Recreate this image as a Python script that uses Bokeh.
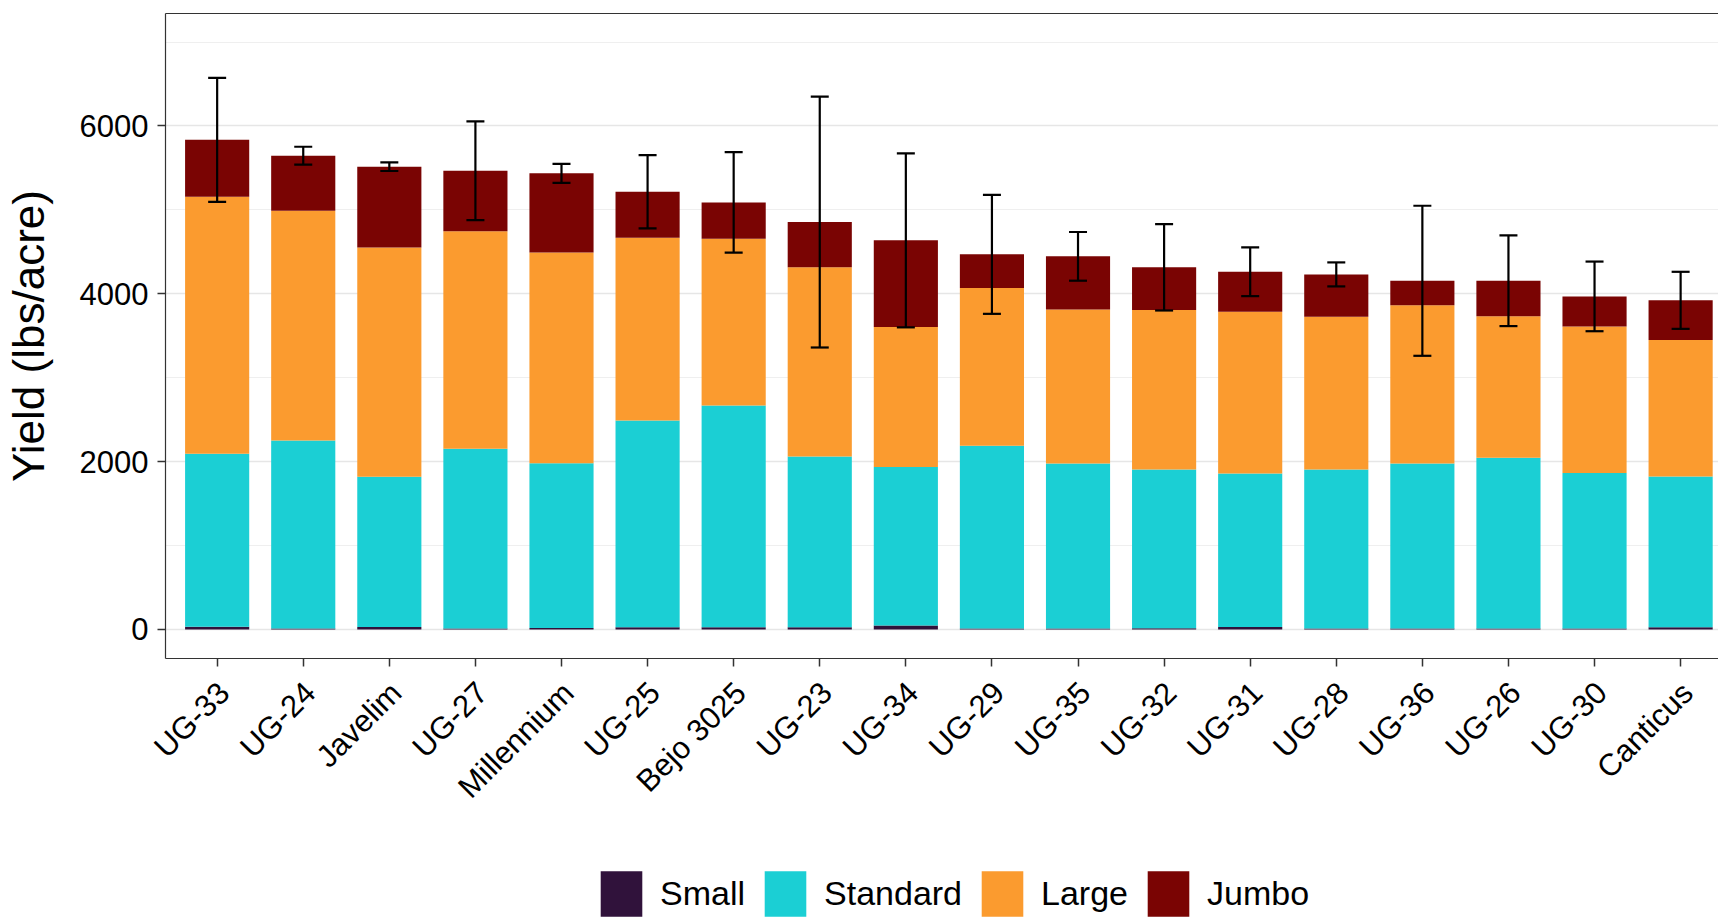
import math
from bokeh.plotting import figure
from bokeh.layouts import column
from bokeh.models import (ColumnDataSource, Range1d, FixedTicker, Legend, LegendItem,
                          Whisker, TeeHead, LinearAxis)
from bokeh.embed import file_html
from bokeh.resources import INLINE

# ---- data ----
varieties = ["UG-33", "UG-24", "Javelim", "UG-27", "Millennium", "UG-25", "Bejo 3025",
             "UG-23", "UG-34", "UG-29", "UG-35", "UG-32", "UG-31", "UG-28", "UG-36",
             "UG-26", "UG-30", "Canticus"]
small = [32, 12, 30, 12, 18, 25, 25, 25, 48, 12, 12, 14, 30, 12, 12, 12, 12, 25]
standard = [2061, 2241, 1789, 2141, 1964, 2466, 2645, 2037, 1887, 2176, 1967, 1893,
            1829, 1895, 1967, 2033, 1851, 1799]
large = [3063, 2736, 2734, 2591, 2511, 2177, 1986, 2253, 1668, 1880, 1835, 1899,
         1927, 1819, 1883, 1686, 1748, 1624]
jumbo = [679, 656, 961, 722, 942, 548, 433, 540, 1034, 402, 632, 509,
         476, 505, 293, 424, 358, 474]
error = [739, 107, 51, 588, 113, 437, 598, 1495, 1037, 709, 290, 514,
         290, 143, 894, 540, 415, 340]

classes = ["Small", "Standard", "Large", "Jumbo"]
colors = ["#30123b", "#1bcfd4", "#fb9b2f", "#7a0403"]
y_ticks = [0, 2000, 4000, 6000]
y_minor = [1000, 3000, 5000, 7000]
y_title = "Yield (lbs/acre)"

FONT = "Liberation Sans"
BORDER = "#333333"

x = list(range(len(varieties)))
total = [a + b + c + d for a, b, c, d in zip(small, standard, large, jumbo)]
src = ColumnDataSource(dict(
    x=x, Small=small, Standard=standard, Large=large, Jumbo=jumbo,
    upper=[t + e for t, e in zip(total, error)],
    lower=[t - e for t, e in zip(total, error)],
))

X0, X1 = -0.6, 17.44
p = figure(width=1718, height=860, output_backend="svg", toolbar_location=None,
           x_range=Range1d(X0, X1), y_range=Range1d(-346, 7340),
           min_border_left=165, min_border_right=0, min_border_top=13,
           min_border_bottom=202)
p.background_fill_color = "white"
p.border_fill_color = "white"
p.outline_line_color = None

bars = p.vbar_stack(classes, x="x", width=0.745, fill_color=colors,
                    line_color=None, source=src)

whisk = Whisker(base="x", upper="upper", lower="lower", source=src,
                line_color="black", line_width=2.2, level="overlay",
                upper_head=TeeHead(size=18, line_color="black", line_width=2.2),
                lower_head=TeeHead(size=18, line_color="black", line_width=2.2))
p.add_layout(whisk)

# main x axis: panel border + tick marks only
xax = p.xaxis[0]
xax.ticker = FixedTicker(ticks=x)
xax.major_label_overrides = {i: "" for i in x}
xax.major_label_text_font_size = "0px"
xax.major_label_standoff = 0
xax.axis_line_color = BORDER
xax.axis_line_width = 1.2
xax.major_tick_line_color = BORDER
xax.major_tick_line_width = 1.5
xax.major_tick_out = 8
xax.major_tick_in = 0
xax.minor_tick_line_color = None

yax = p.yaxis[0]
yax.ticker = FixedTicker(ticks=y_ticks, minor_ticks=y_minor)
yax.axis_label = y_title
yax.axis_line_color = BORDER
yax.axis_line_width = 1.2
yax.major_tick_line_color = BORDER
yax.major_tick_line_width = 1.5
yax.major_tick_out = 8
yax.major_tick_in = 0
yax.minor_tick_line_color = None
yax.major_label_text_font = FONT
yax.major_label_text_font_size = "31px"
yax.major_label_text_color = "black"
yax.major_label_standoff = 9
yax.axis_label_text_font = FONT
yax.axis_label_text_font_size = "44px"
yax.axis_label_text_font_style = "normal"
yax.axis_label_text_color = "black"
yax.axis_label_standoff = 24

# top panel border (the panel runs past the right edge in the reference)
top = LinearAxis(ticker=FixedTicker(ticks=[]), axis_line_color=BORDER,
                 axis_line_width=1.2, major_tick_line_color=None,
                 minor_tick_line_color=None, major_tick_out=0, major_tick_in=0,
                 major_label_text_font_size="0px", major_label_standoff=0)
p.add_layout(top, "above")

# label axis (slightly offset range so rotated labels hang like the reference)
shift = 0.08
p.extra_x_ranges = {"lab": Range1d(X0 - shift, X1 - shift)}
lab = LinearAxis(x_range_name="lab", ticker=FixedTicker(ticks=x),
                 major_label_overrides={i: v for i, v in zip(x, varieties)},
                 major_label_orientation=math.pi / 4,
                 axis_line_color=None, major_tick_line_color=None,
                 minor_tick_line_color=None, major_tick_out=0, major_tick_in=0,
                 major_label_standoff=21, major_label_text_font=FONT,
                 major_label_text_font_size="31px", major_label_text_color="black")
p.add_layout(lab, "below")

p.xgrid.grid_line_color = None
p.ygrid.ticker = FixedTicker(ticks=y_ticks, minor_ticks=y_minor)
p.ygrid.grid_line_color = "#e6e6e6"
p.ygrid.grid_line_width = 1.6
p.ygrid.minor_grid_line_color = "#efefef"
p.ygrid.minor_grid_line_width = 1.2

# ---- legend strip below the plot ----
q = figure(width=1718, height=57, output_backend="svg", toolbar_location=None,
           x_axis_type=None, y_axis_type=None,
           x_range=Range1d(X0, X1), y_range=Range1d(1e7, 2e7),
           min_border=0)
q.outline_line_color = None
q.background_fill_color = "white"
q.border_fill_color = "white"
q.xgrid.visible = False
q.ygrid.visible = False
leg_bars = q.vbar_stack(classes, x="x", width=0.745, fill_color=colors,
                        line_color=None, source=src)
legend = Legend(items=[LegendItem(label=c, renderers=[r]) for c, r in zip(classes, leg_bars)],
                orientation="horizontal", location=(430, -5),
                glyph_width=52, glyph_height=57, label_standoff=13, spacing=14,
                padding=0, margin=0, border_line_color=None,
                background_fill_alpha=0, label_text_font=FONT,
                label_text_font_size="34px", label_text_color="black")
q.add_layout(legend, "center")

layout = column(p, q, spacing=0)
open("out.html", "w").write(file_html(layout, INLINE))
